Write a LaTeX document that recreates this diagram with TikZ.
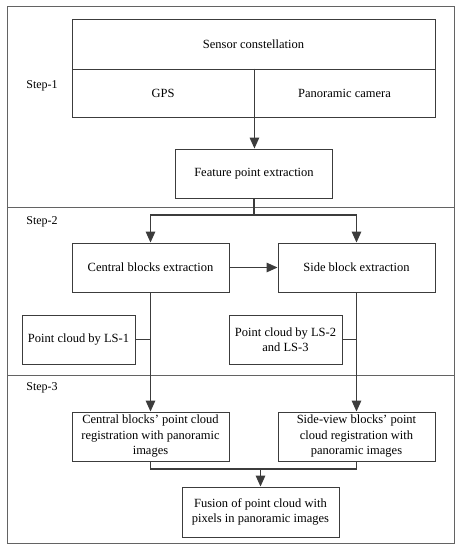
\documentclass[tikz,border=0pt]{standalone}
\usepackage{fontspec}
\setmainfont{Liberation Serif}
\usetikzlibrary{arrows.meta}
\definecolor{ln}{HTML}{3C3C3C}
\tikzset{
  box/.style={draw=ln, line width=0.9pt, rectangle, inner sep=2pt, align=center,
    font=\fontsize{12.5}{15.5}\selectfont, text=black},
  arr/.style={draw=ln, line width=1.4pt, -{Triangle[width=9.5pt,length=11pt]}},
  con/.style={draw=ln, line width=1.4pt},
  frame/.style={draw=ln!80, line width=1pt},
  steplbl/.style={font=\fontsize{12}{14}\selectfont, text=black}
}
\begin{document}
\begin{tikzpicture}[x=1pt,y=-1pt]
\useasboundingbox (0,0) rectangle (459,550);
% frame
\draw[frame] (7,6) rectangle (454,543);
\draw[frame] (7,207) -- (454,207);
\draw[frame] (7,375) -- (454,375);
\node[steplbl] (s1) at (42,86) {Step-1};
\node[steplbl] (s2) at (42,222) {Step-2};
\node[steplbl] (s3) at (42,388) {Step-3};
% step 1
\node[box, minimum width=363pt, minimum height=49.5pt] (sensor) at (253.5,44.25) {Sensor constellation};
\node[box, minimum width=182pt, minimum height=48pt] (gps) at (163,93) {GPS};
\node[box, minimum width=181pt, minimum height=48pt] (cam) at (344.5,93) {Panoramic camera};
\node[box, minimum width=157pt, minimum height=49pt] (feat) at (254,173.5) {Feature point extraction};
\draw[arr] (gps.north east) -- (gps.north east |- feat.north);
% step 2
\node[box, minimum width=157pt, minimum height=49pt] (central) at (150.5,267.5) {Central blocks extraction};
\node[box, minimum width=157pt, minimum height=49pt] (side) at (356.5,267.5) {Side block extraction};
\coordinate (split) at (254,215);
\draw[con] (feat.south) -- (split);
\draw[arr] (split) -| (central.north);
\draw[arr] (split) -| (side.north);
\draw[arr] (central.east) -- (side.west);
\node[box, minimum width=113pt, minimum height=49pt] (ls1) at (78.5,339.5) {Point cloud by LS-1};
\node[box, minimum width=113pt, minimum height=49pt] (ls2) at (285.5,339.5) {Point cloud by LS-2\\and LS-3};
% step 3
\node[box, minimum width=157pt, minimum height=49pt] (regc) at (150.5,436.5) {Central blocks’ point cloud\\registration with panoramic\\images};
\node[box, minimum width=157pt, minimum height=49pt] (regs) at (356.5,436.5) {Side-view blocks’ point\\cloud registration with\\panoramic images};
\draw[arr] (central.south) -- (regc.north);
\draw[arr] (side.south) -- (regs.north);
\draw[con] (ls1.east) -- (ls1.east -| central.south);
\draw[con] (ls2.east) -- (ls2.east -| side.south);
\node[box, minimum width=157pt, minimum height=50pt] (fusion) at (260.5,512) {Fusion of point cloud with\\pixels in panoramic images};
\coordinate (merge) at (260.5,469);
\draw[con] (regc.south) |- (merge);
\draw[con] (regs.south) |- (merge);
\draw[arr] (merge) -- (fusion.north);
\end{tikzpicture}
\end{document}
